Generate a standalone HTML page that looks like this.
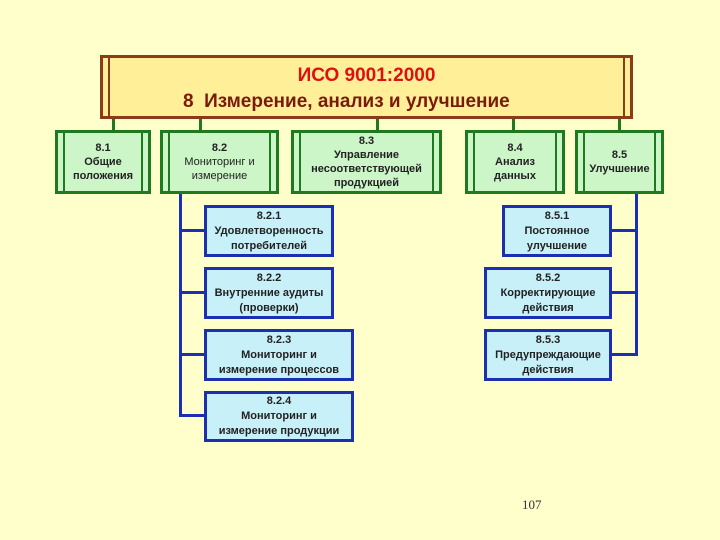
<!DOCTYPE html>
<html><head><meta charset="utf-8"><style>
body{margin:0;width:720px;height:540px;background:#ffffcc;position:relative;overflow:hidden;font-family:"Liberation Sans",sans-serif}
.a{position:absolute;box-sizing:border-box}
.t{background:#ffef99;border:3px solid #8b3a1a;}
.g{background:#ccf5c8;border:3px solid #1f7a1f;display:flex;align-items:center;justify-content:center;text-align:center;font-size:11px;font-weight:bold;line-height:14px;color:#222}
.b{background:#c8f0f8;border:3px solid #1c2fb0;display:flex;align-items:center;justify-content:center;text-align:center;font-size:11px;font-weight:bold;line-height:15px;color:#222}
.gl{position:absolute;top:0;bottom:0;width:2px;background:#1f7a1f}
.gc{background:#1f7a1f;width:3px}
.bl{background:#1c2fb0}
</style></head><body>
<div class="a t" style="left:100px;top:55px;width:533px;height:64px">
<div class="gl" style="left:5px;background:#8b3a1a"></div><div class="gl" style="right:5px;background:#8b3a1a"></div>
<div style="position:absolute;left:0;right:0;top:7px;text-align:center;color:#e01010;font-weight:bold;font-size:19px">ИСО 9001:2000</div>
<div style="position:absolute;left:80px;top:33px;color:#7a1a0a;font-weight:bold;font-size:19px;white-space:nowrap">8&nbsp;&nbsp;Измерение, анализ и улучшение</div>
</div>
<div class="a gc" style="left:112px;top:119px;height:12px"></div>
<div class="a gc" style="left:199px;top:119px;height:12px"></div>
<div class="a gc" style="left:376px;top:119px;height:12px"></div>
<div class="a gc" style="left:512px;top:119px;height:12px"></div>
<div class="a gc" style="left:618px;top:119px;height:12px"></div>

<div class="a g" style="left:55px;top:130px;width:96px;height:64px"><div class="gl" style="left:5px"></div><div class="gl" style="right:5px"></div><div>8.1<br>Общие<br>положения</div></div>
<div class="a g" style="left:160px;top:130px;width:119px;height:64px;font-weight:normal"><div class="gl" style="left:5px"></div><div class="gl" style="right:5px"></div><div><b>8.2</b><br>Мониторинг и<br>измерение</div></div>
<div class="a g" style="left:291px;top:130px;width:151px;height:64px"><div class="gl" style="left:5px"></div><div class="gl" style="right:5px"></div><div>8.3<br>Управление<br>несоответствующей<br>продукцией</div></div>
<div class="a g" style="left:465px;top:130px;width:100px;height:64px"><div class="gl" style="left:5px"></div><div class="gl" style="right:5px"></div><div>8.4<br>Анализ<br>данных</div></div>
<div class="a g" style="left:575px;top:130px;width:89px;height:64px"><div class="gl" style="left:5px"></div><div class="gl" style="right:5px"></div><div>8.5<br>Улучшение</div></div>

<div class="a bl" style="left:179px;top:194px;width:3px;height:222px"></div>
<div class="a bl" style="left:179px;top:229px;width:26px;height:3px"></div>
<div class="a bl" style="left:179px;top:291px;width:26px;height:3px"></div>
<div class="a bl" style="left:179px;top:353px;width:26px;height:3px"></div>
<div class="a bl" style="left:179px;top:414px;width:26px;height:3px"></div>
<div class="a bl" style="left:635px;top:194px;width:3px;height:162px"></div>
<div class="a bl" style="left:610px;top:229px;width:28px;height:3px"></div>
<div class="a bl" style="left:610px;top:291px;width:28px;height:3px"></div>
<div class="a bl" style="left:610px;top:353px;width:28px;height:3px"></div>

<div class="a b" style="left:204px;top:205px;width:130px;height:52px"><div>8.2.1<br>Удовлетворенность<br>потребителей</div></div>
<div class="a b" style="left:204px;top:267px;width:130px;height:52px"><div>8.2.2<br>Внутренние аудиты<br>(проверки)</div></div>
<div class="a b" style="left:204px;top:329px;width:150px;height:52px"><div>8.2.3<br>Мониторинг и<br>измерение процессов</div></div>
<div class="a b" style="left:204px;top:391px;width:150px;height:51px"><div>8.2.4<br>Мониторинг и<br>измерение продукции</div></div>
<div class="a b" style="left:502px;top:205px;width:110px;height:52px"><div>8.5.1<br>Постоянное<br>улучшение</div></div>
<div class="a b" style="left:484px;top:267px;width:128px;height:52px"><div>8.5.2<br>Корректирующие<br>действия</div></div>
<div class="a b" style="left:484px;top:329px;width:128px;height:52px"><div>8.5.3<br>Предупреждающие<br>действия</div></div>

<div class="a" style="left:522px;top:497px;font-family:'Liberation Serif',serif;font-size:13px;color:#333">107</div>
</body></html>
